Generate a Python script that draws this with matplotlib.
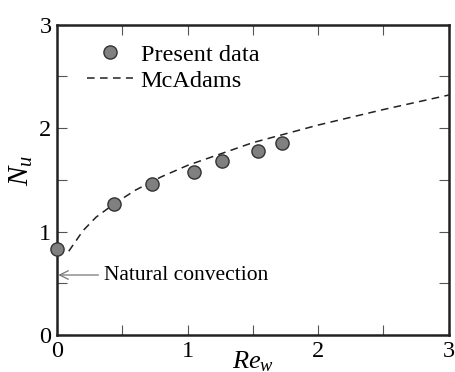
import matplotlib.pyplot as plt
import numpy as np

plt.rcParams['font.family'] = ['Liberation Serif', 'DejaVu Serif']
plt.rcParams['mathtext.fontset'] = 'custom'
plt.rcParams['mathtext.it'] = 'Liberation Serif:italic'
plt.rcParams['mathtext.rm'] = 'Liberation Serif'

# present data
re_data = [0.0, 0.44, 0.73, 1.05, 1.26, 1.54, 1.72]
nu_data = [0.83, 1.27, 1.46, 1.58, 1.68, 1.78, 1.86]

# McAdams correlation curve
re_mc = [0.09, 0.2, 0.3, 0.44, 0.6, 0.8, 1.0, 1.25, 1.5, 2.0, 2.5, 3.0]
nu_mc = [0.81, 1.01, 1.14, 1.27, 1.40, 1.53, 1.64, 1.75, 1.86, 2.03, 2.18, 2.32]

fig = plt.figure(figsize=(4.56, 3.72), dpi=100)
ax = fig.add_axes([0.125, 0.0995, 0.859, 0.834])

ax.plot(re_mc, nu_mc, ls=(0, (5, 3.5)), color='#222222', lw=1.1, label='McAdams')
ax.plot(re_data, nu_data, 'o', ms=9.5, mfc='#808080', mec='#333333', mew=1.0,
        label='Present data', clip_on=False, zorder=5)

ax.set_xlim(0, 3)
ax.set_ylim(0, 3)
ax.set_xticks([0, 1, 2, 3])
ax.set_yticks([0, 1, 2, 3])
ax.set_xticks([0.5, 1.5, 2.5], minor=True)
ax.set_yticks([0.5, 1.5, 2.5], minor=True)
ax.tick_params(which='both', direction='in', top=True, right=True, length=7,
               width=0.8, color='#555555', labelsize=17.5)
ax.tick_params(axis='x', pad=4)
ax.tick_params(axis='y', pad=4)
for s in ax.spines.values():
    s.set_linewidth(1.8)
    s.set_color('#222222')

ax.set_xlabel(r'$Re_w$', fontsize=19, va='top')
ax.xaxis.set_label_coords(0.5, -0.045)
ax.set_ylabel(r'$N_u$', fontsize=21)
ax.yaxis.set_label_coords(-0.055, 0.53)

h, l = ax.get_legend_handles_labels()
ax.legend(h[::-1], l[::-1], loc='upper left', bbox_to_anchor=(0.052, 0.97),
          frameon=False, fontsize=17.5, handlelength=1.9, handletextpad=0.3,
          labelspacing=0.17, borderaxespad=0)

ax.annotate('Natural convection', xy=(0.01, 0.58), xytext=(0.36, 0.58),
            fontsize=15.5, va='center', ha='left',
            arrowprops=dict(arrowstyle='->', color='#777777', lw=0.9,
                            shrinkA=2, shrinkB=0))

fig.savefig('out.png', dpi=100)
